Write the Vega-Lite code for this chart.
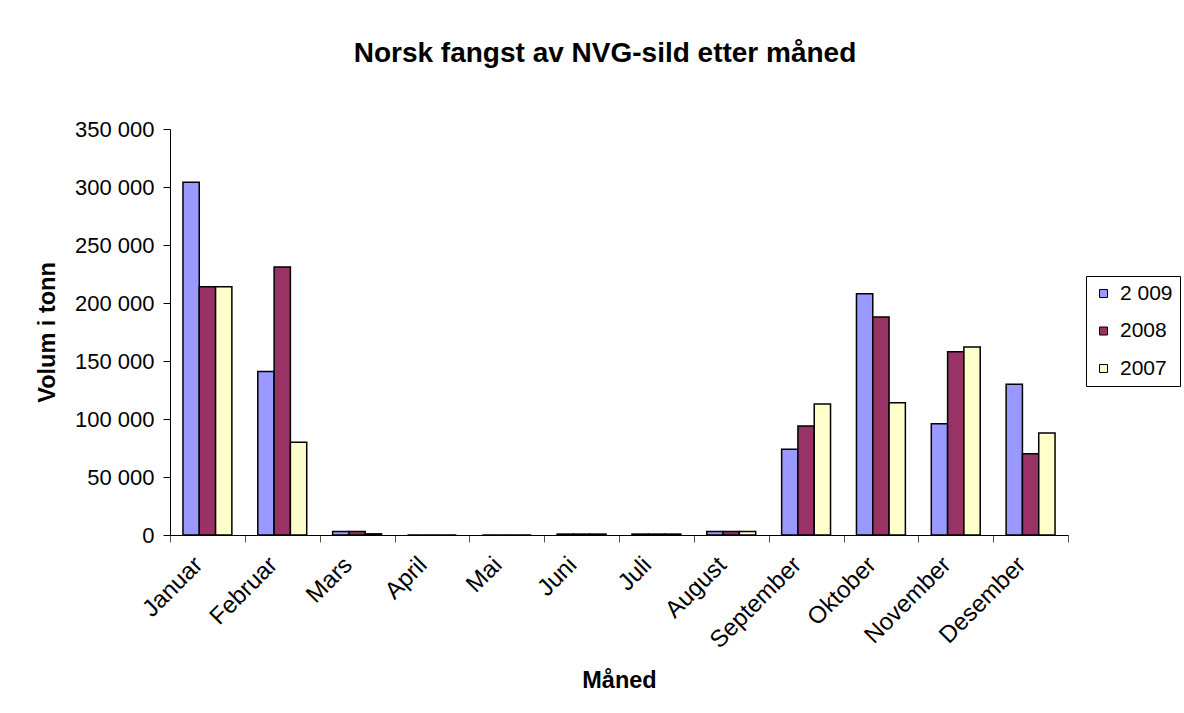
{
  "$schema": "https://vega.github.io/schema/vega-lite/v6.json",
  "width": 898,
  "height": 406,
  "autosize": {"type": "none"},
  "padding": {"left": 170, "top": 129, "right": 116, "bottom": 178},
  "background": "white",
  "config": {
    "font": "Liberation Sans",
    "view": {"stroke": null},
    "locale": {"number": {"decimal": ",", "thousands": " ", "grouping": [3], "currency": ["", ""]}}
  },
  "title": {
    "text": "Norsk fangst av NVG-sild etter måned",
    "fontSize": 28,
    "fontWeight": "bold",
    "font": "Liberation Sans",
    "color": "black",
    "anchor": "middle",
    "frame": "group",
    "dx": -14,
    "offset": 50
  },
  "data": {
    "values": [
      {"month": "Januar", "year": "2 009", "volume": 304000},
      {"month": "Januar", "year": "2008", "volume": 214000},
      {"month": "Januar", "year": "2007", "volume": 214000},
      {"month": "Februar", "year": "2 009", "volume": 141000},
      {"month": "Februar", "year": "2008", "volume": 231000},
      {"month": "Februar", "year": "2007", "volume": 80000},
      {"month": "Mars", "year": "2 009", "volume": 3000},
      {"month": "Mars", "year": "2008", "volume": 3000},
      {"month": "Mars", "year": "2007", "volume": 1000},
      {"month": "April", "year": "2 009", "volume": 0},
      {"month": "April", "year": "2008", "volume": 0},
      {"month": "April", "year": "2007", "volume": 0},
      {"month": "Mai", "year": "2 009", "volume": 0},
      {"month": "Mai", "year": "2008", "volume": 0},
      {"month": "Mai", "year": "2007", "volume": 0},
      {"month": "Juni", "year": "2 009", "volume": 800},
      {"month": "Juni", "year": "2008", "volume": 800},
      {"month": "Juni", "year": "2007", "volume": 800},
      {"month": "Juli", "year": "2 009", "volume": 800},
      {"month": "Juli", "year": "2008", "volume": 800},
      {"month": "Juli", "year": "2007", "volume": 800},
      {"month": "August", "year": "2 009", "volume": 3000},
      {"month": "August", "year": "2008", "volume": 3000},
      {"month": "August", "year": "2007", "volume": 3000},
      {"month": "September", "year": "2 009", "volume": 74000},
      {"month": "September", "year": "2008", "volume": 94000},
      {"month": "September", "year": "2007", "volume": 113000},
      {"month": "Oktober", "year": "2 009", "volume": 208000},
      {"month": "Oktober", "year": "2008", "volume": 188000},
      {"month": "Oktober", "year": "2007", "volume": 114000},
      {"month": "November", "year": "2 009", "volume": 96000},
      {"month": "November", "year": "2008", "volume": 158000},
      {"month": "November", "year": "2007", "volume": 162000},
      {"month": "Desember", "year": "2 009", "volume": 130000},
      {"month": "Desember", "year": "2008", "volume": 70000},
      {"month": "Desember", "year": "2007", "volume": 88000}
    ]
  },
  "mark": {"type": "bar", "stroke": "black", "strokeWidth": 1.5},
  "encoding": {
    "x": {
      "field": "month",
      "type": "nominal",
      "sort": ["Januar", "Februar", "Mars", "April", "Mai", "Juni", "Juli", "August", "September", "Oktober", "November", "Desember"],
      "scale": {"paddingInner": 0, "paddingOuter": 0},
      "axis": {
        "title": "Måned",
        "titleFontSize": 23.5,
        "titleFontWeight": "bold",
        "titleColor": "black",
        "titleX": 449,
        "titleY": 145,
        "titleAnchor": null,
        "titleAlign": "center",
        "titleBaseline": "middle",
        "labelAngle": -45,
        "labelAlign": "right",
        "labelBaseline": "middle",
        "labelFontSize": 24,
        "labelColor": "black",
        "labelPadding": 19,
        "labelOffset": -9,
        "tickBand": "extent",
        "tickSize": 7,
        "tickColor": "#555555",
        "domainColor": "black",
        "grid": false
      }
    },
    "xOffset": {
      "field": "year",
      "type": "nominal",
      "sort": ["2 009", "2008", "2007"],
      "scale": {"paddingInner": 0, "paddingOuter": 0.795}
    },
    "y": {
      "field": "volume",
      "type": "quantitative",
      "scale": {"domain": [0, 350000]},
      "axis": {
        "title": "Volum i tonn",
        "titleFontSize": 23.5,
        "titleFontWeight": "bold",
        "titleColor": "black",
        "titleAngle": -90,
        "titleX": -123,
        "titleY": 203,
        "titleAlign": "center",
        "titleBaseline": "middle",
        "values": [0, 50000, 100000, 150000, 200000, 250000, 300000, 350000],
        "format": ",d",
        "labelFontSize": 22,
        "labelColor": "black",
        "labelPadding": 9,
        "tickSize": 7,
        "tickColor": "black",
        "domainColor": "black",
        "grid": false
      }
    },
    "color": {
      "field": "year",
      "type": "nominal",
      "scale": {"domain": ["2 009", "2008", "2007"], "range": ["#9999FF", "#993366", "#FFFFCC"]},
      "legend": {
        "title": null,
        "orient": "none",
        "legendX": 916,
        "legendY": 147,
        "symbolType": "square",
        "symbolSize": 64,
        "symbolStrokeColor": "black",
        "symbolStrokeWidth": 1,
        "labelFontSize": 21,
        "labelColor": "black",
        "labelExpr": "datum.label == '2 009' ? ' 2 009' : datum.label",
        "strokeColor": "black",
        "padding": 7,
        "rowPadding": 15.5,
        "offset": 0,
        "labelOffset": 6
      }
    }
  }
}
